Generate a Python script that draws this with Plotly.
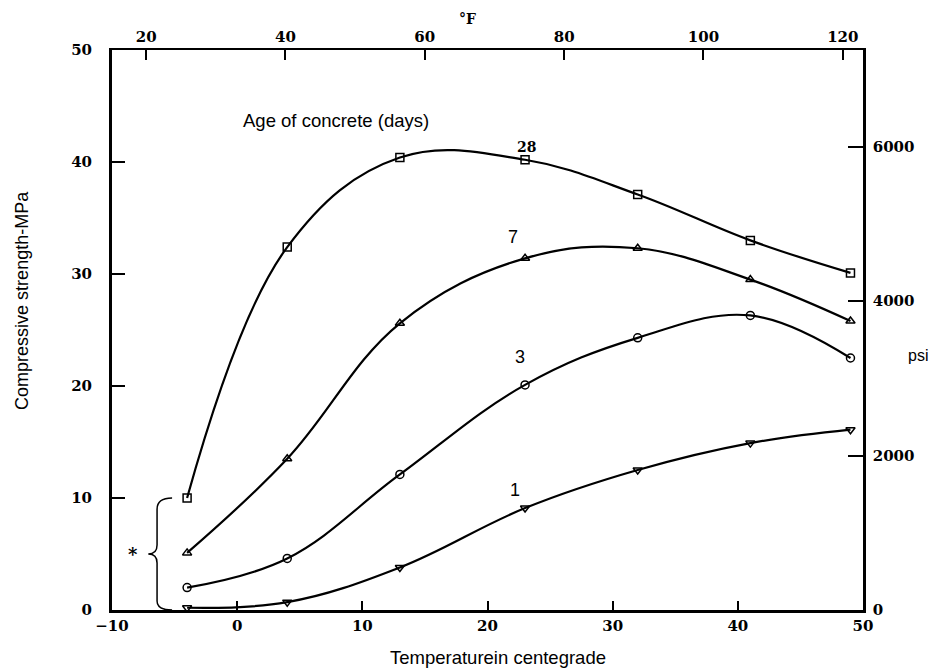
import plotly.graph_objects as go

# Temperature (°C) at which each age curve was measured
temp_c = [-4, 4, 13, 23, 32, 41, 49]

# Compressive strength (MPa) by age of concrete
strength_28d = [10.0, 32.4, 40.4, 40.2, 37.1, 33.0, 30.1]
strength_7d = [5.1, 13.5, 25.6, 31.4, 32.3, 29.5, 25.8]
strength_3d = [2.0, 4.6, 12.1, 20.1, 24.3, 26.3, 22.5]
strength_1d = [0.2, 0.7, 3.8, 9.1, 12.5, 14.9, 16.1]

series = [
    ("28", strength_28d, "square-open"),
    ("7", strength_7d, "triangle-up-open"),
    ("3", strength_3d, "circle-open"),
    ("1", strength_1d, "triangle-down-open"),
]

x_ticks_c = [-10, 0, 10, 20, 30, 40, 50]
x_ticks_f = [20, 40, 60, 80, 100, 120]
y_ticks_mpa = [0, 10, 20, 30, 40, 50]
y_ticks_psi = [0, 2000, 4000, 6000]

fig = go.Figure()
for name, vals, sym in series:
    fig.add_trace(go.Scatter(
        x=temp_c, y=vals, mode="lines+markers", name=name,
        line=dict(color="black", width=2.2, shape="spline", smoothing=1.1),
        marker=dict(symbol=sym, size=8, color="black", line=dict(width=1.5)),
        showlegend=False, hoverinfo="skip",
    ))

# anchor trace for the secondary (°F / psi) axes
fig.add_trace(go.Scatter(x=[None], y=[None], xaxis="x2", yaxis="y2",
                         showlegend=False, hoverinfo="skip"))

serif_bold = dict(family="DejaVu Serif", size=15, color="black", weight="bold")
sans = "Liberation Sans, Arial, sans-serif"

fig.update_layout(
    width=930, height=662,
    margin=dict(l=104, r=75, t=42, b=60),
    paper_bgcolor="white", plot_bgcolor="white",
    xaxis=dict(range=[-10, 50], tickvals=x_ticks_c, ticks="inside", ticklen=9,
               tickwidth=2, tickcolor="black", showline=True, linewidth=3,
               linecolor="black", showgrid=False, zeroline=False,
               tickfont=serif_bold, automargin=False),
    xaxis2=dict(range=[15.1, 122.9], tickvals=x_ticks_f, overlaying="x",
                side="top", anchor="y", ticks="inside", ticklen=10, tickwidth=2,
                tickcolor="black", showline=True, linewidth=2, linecolor="black",
                showgrid=False, zeroline=False, tickfont=serif_bold,
                automargin=False),
    yaxis=dict(range=[0, 50], tickvals=y_ticks_mpa, ticks="inside", ticklen=13,
               tickwidth=2, tickcolor="black", showline=True, linewidth=3,
               linecolor="black", showgrid=False, zeroline=False,
               tickfont=serif_bold, ticklabelstandoff=14, automargin=False),
    yaxis2=dict(range=[0, 7252], tickvals=y_ticks_psi, overlaying="y",
                side="right", anchor="x", ticks="inside", ticklen=15,
                tickwidth=2, tickcolor="black", showline=True, linewidth=2.5,
                linecolor="black", showgrid=False, zeroline=False,
                tickfont=dict(family="DejaVu Serif", size=15, color="black",
                              weight="bold"),
                ticklabelstandoff=4, automargin=False),
)

# brace grouping the lowest-temperature points
fig.add_shape(type="path", xref="x", yref="y",
              path="M -5.2,10 Q -6.4,10 -6.4,9 L -6.4,5.8 Q -6.4,5 -7.1,5 "
                   "Q -6.4,5 -6.4,4.2 L -6.4,0.8 Q -6.4,0 -5.2,0",
              line=dict(color="black", width=1.5))

C = dict(xanchor="center", yanchor="middle", showarrow=False)
ann = []
ann.append(dict(x=-8.3, y=5.0, xref="x", yref="y", text="*", **C,
                font=dict(family="DejaVu Serif", size=18, color="black", weight="bold")))
ann.append(dict(x=7.9, y=43.75, xref="x", yref="y", text="Age of concrete (days)", **C,
                font=dict(family=sans, size=18.5, color="black")))
ann.append(dict(x=23.15, y=41.3, xref="x", yref="y", text="28", **C,
                font=dict(family="DejaVu Serif", size=14, color="black", weight="bold")))
ann.append(dict(x=22.0, y=33.3, xref="x", yref="y", text="7", **C,
                font=dict(family=sans, size=18, color="black")))
ann.append(dict(x=22.6, y=22.6, xref="x", yref="y", text="3", **C,
                font=dict(family=sans, size=18, color="black")))
ann.append(dict(x=22.2, y=10.7, xref="x", yref="y", text="1", **C,
                font=dict(family=sans, size=18, color="black")))
ann.append(dict(x=-0.1198, y=0.552, xref="paper", yref="paper",
                text="Compressive strength-MPa", textangle=-90, **C,
                font=dict(family=sans, size=18, color="black")))
ann.append(dict(x=0.514, y=-0.084, xref="paper", yref="paper",
                text="Temperaturein centegrade", **C,
                font=dict(family=sans, size=18.5, color="black")))
ann.append(dict(x=0.474, y=1.056, xref="paper", yref="paper", text="°F", **C,
                font=dict(family="DejaVu Serif", size=14, color="black", weight="bold")))
ann.append(dict(x=1.073, y=0.455, xref="paper", yref="paper", text="psi", **C,
                font=dict(family=sans, size=16, color="black")))
fig.update_layout(annotations=ann)

fig.write_html("out.html")
